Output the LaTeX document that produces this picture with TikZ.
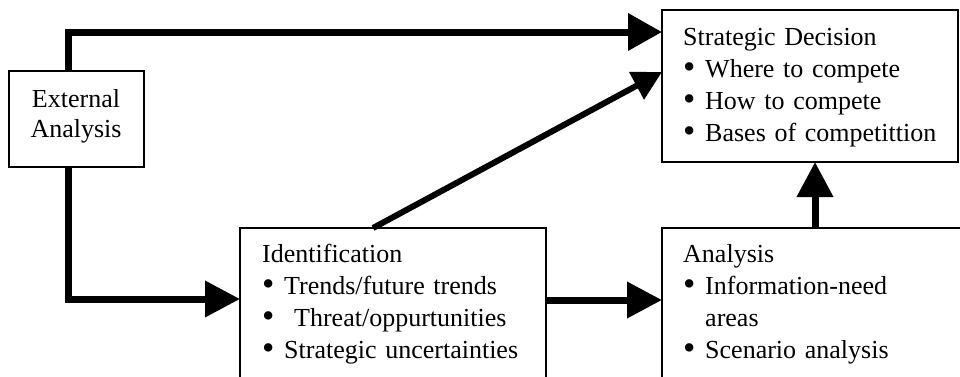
\documentclass[tikz,border=0pt]{standalone}
\usepackage{fontspec}
\setmainfont{Liberation Serif}
\usetikzlibrary{arrows.meta}
\newcommand\bulitem[1]{\makebox[22pt][l]{\raisebox{-1.5pt}{\scalebox{1.35}{•}}}#1}
\begin{document}
\begin{tikzpicture}[x=1pt,y=-1pt,
  box/.style={draw, line width=1.2pt, rectangle, anchor=north west, inner sep=0pt, outer sep=0pt},
  txt/.style={anchor=base west, inner sep=0pt, align=left, text width=290pt, font=\fontsize{26}{32}\selectfont},
  flow/.style={line width=7pt, -{Triangle[length=35pt,width=35pt]}},
  ]
\useasboundingbox (0,0) rectangle (960,376);
\clip (0,0) rectangle (960,376);
\fill[white] (0,0) rectangle (960,376);

\node[box, minimum width=135pt, minimum height=96pt] (ext) at (9,71) {};
\node[box, minimum width=296pt, minimum height=152pt] (sd) at (662,10) {};
\node[box, minimum width=306pt, minimum height=160pt] (id) at (240,228) {};
\node[box, minimum width=310pt, minimum height=160pt] (an) at (662,228) {};

\node[anchor=base, inner sep=0pt, align=center, text width=130pt, font=\fontsize{26}{30}\selectfont] (extt) at (76,107) {External\\Analysis};
\node[txt] (sdt) at (683,45) {Strategic Decision\\\bulitem{Where to compete}\\\bulitem{How to compete}\\\bulitem{Bases of competittion}};
\node[txt] (idt) at (262,262) {Identification\\\bulitem{Trends/future trends}\\\bulitem{\hspace*{10pt}Threat/oppurtunities}\\\bulitem{Strategic uncertainties}};
\node[txt] (ant) at (683,262) {Analysis\\\bulitem{Information-need}\\\hspace*{22pt}areas\\\bulitem{Scenario analysis}};

\draw[flow, -{Triangle[length=34pt,width=36pt]}] ([xshift=-8.5pt]ext.north) |- ([yshift=-22pt]sd.north west);
\draw[flow] ([xshift=-8.5pt]ext.south) |- ([yshift=-71pt]id.north west);
\draw[flow] ([yshift=-72pt]id.north east) -- ([yshift=-72pt]an.north west);
\draw[flow] ([xshift=-2pt]an.north) -- ([xshift=-2pt]an.north |- sd.south);
\draw[line width=6pt, -{Triangle[length=29pt,width=30pt]}] ([xshift=133pt]id.north west) -- ([yshift=-62pt]sd.north west);
\end{tikzpicture}
\end{document}
